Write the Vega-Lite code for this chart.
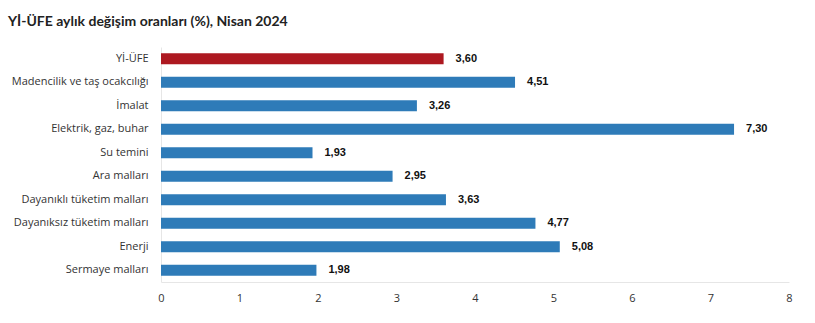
{
  "$schema": "https://vega.github.io/schema/vega-lite/v6.json",
  "autosize": "none",
  "width": 628,
  "height": 235,
  "padding": {"left": 161, "top": 47, "right": 26, "bottom": 41},
  "background": "white",
  "config": {
    "view": {"stroke": null},
    "locale": {"number": {"decimal": ",", "thousands": ".", "grouping": [3], "currency": ["", " TL"]}},
    "font": "Open Sans"
  },
  "title": {
    "text": "Yİ-ÜFE aylık değişim oranları (%), Nisan 2024",
    "anchor": "start",
    "frame": "group",
    "dx": -153,
    "offset": 18,
    "font": "Lato",
    "fontSize": 14,
    "fontWeight": "bold",
    "color": "#222222"
  },
  "data": {
    "values": [
      {"kategori": "Yİ-ÜFE", "deger": 3.60, "grup": "genel"},
      {"kategori": "Madencilik ve taş ocakcılığı", "deger": 4.51, "grup": "alt"},
      {"kategori": "İmalat", "deger": 3.26, "grup": "alt"},
      {"kategori": "Elektrik, gaz, buhar", "deger": 7.30, "grup": "alt"},
      {"kategori": "Su temini", "deger": 1.93, "grup": "alt"},
      {"kategori": "Ara malları", "deger": 2.95, "grup": "alt"},
      {"kategori": "Dayanıklı tüketim malları", "deger": 3.63, "grup": "alt"},
      {"kategori": "Dayanıksız tüketim malları", "deger": 4.77, "grup": "alt"},
      {"kategori": "Enerji", "deger": 5.08, "grup": "alt"},
      {"kategori": "Sermaye malları", "deger": 1.98, "grup": "alt"}
    ]
  },
  "encoding": {
    "y": {
      "field": "kategori",
      "type": "nominal",
      "sort": null,
      "scale": {"paddingInner": 0.53, "paddingOuter": 0.27},
      "axis": {
        "title": null,
        "ticks": false,
        "domainColor": "#e6e6e6",
        "labelPadding": 13,
        "labelFontSize": 11,
        "labelColor": "#333333",
        "labelFont": "Open Sans"
      }
    },
    "x": {
      "field": "deger",
      "type": "quantitative",
      "scale": {"domain": [0, 8], "nice": false},
      "axis": {
        "title": null,
        "ticks": false,
        "grid": false,
        "tickCount": 8,
        "labelFlush": false,
        "domainColor": "#e6e6e6",
        "labelPadding": 10,
        "labelFontSize": 11,
        "labelColor": "#333333",
        "labelFont": "Open Sans"
      }
    }
  },
  "layer": [
    {
      "mark": {"type": "bar"},
      "encoding": {
        "color": {
          "field": "grup",
          "type": "nominal",
          "scale": {"domain": ["genel", "alt"], "range": ["#ad1820", "#2e7bb8"]},
          "legend": null
        }
      }
    },
    {
      "mark": {"type": "text", "align": "left", "dx": 12, "font": "Liberation Sans", "fontWeight": "bold", "fontSize": 11, "color": "#111111"},
      "encoding": {
        "text": {"field": "deger", "type": "quantitative", "format": ".2f"}
      }
    }
  ]
}
